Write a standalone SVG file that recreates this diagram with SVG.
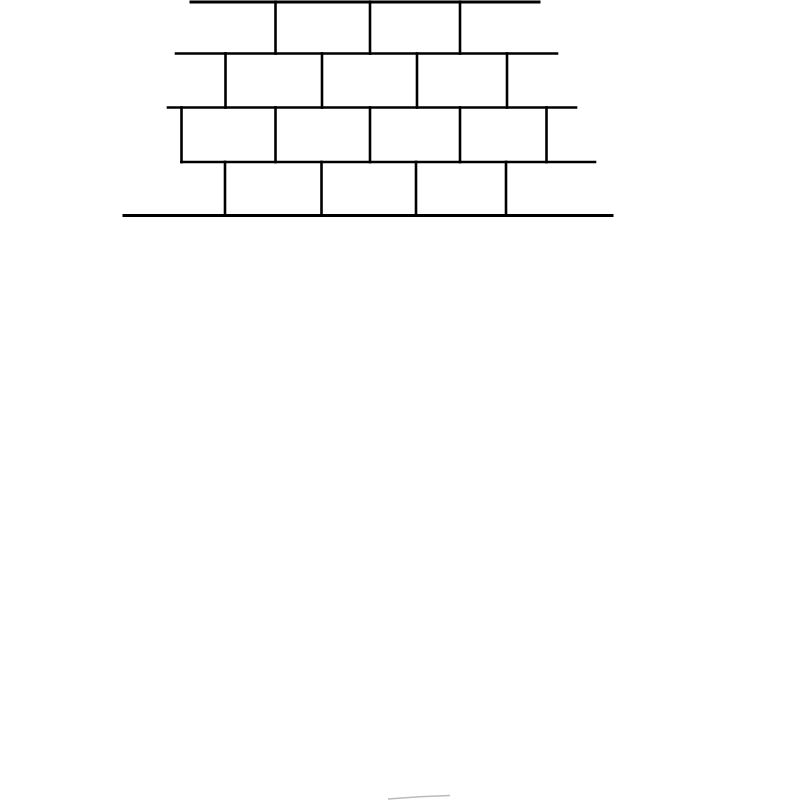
<svg xmlns="http://www.w3.org/2000/svg" width="800" height="800" viewBox="0 0 800 800">
<style>
.l{stroke:#000;stroke-width:2.6;fill:none;stroke-linecap:square}
.h{stroke-width:3}
</style>
<rect width="800" height="800" fill="#fff"/>
<g id="wall">
<line class="l h" x1="191" y1="2" x2="539" y2="2"/>
<line class="l" x1="275.5" y1="2" x2="275.5" y2="53.5"/>
<line class="l" x1="370" y1="2" x2="370" y2="53.5"/>
<line class="l" x1="460" y1="2" x2="460" y2="53.5"/>
<line class="l" x1="176" y1="53.5" x2="557" y2="53.5"/>
<line class="l" x1="225.5" y1="53.5" x2="225.5" y2="107.5"/>
<line class="l" x1="322" y1="53.5" x2="322" y2="107.5"/>
<line class="l" x1="417" y1="53.5" x2="417" y2="107.5"/>
<line class="l" x1="507" y1="53.5" x2="507" y2="107.5"/>
<line class="l" x1="168" y1="107.5" x2="576" y2="107.5"/>
<line class="l" x1="181.5" y1="107.5" x2="181.5" y2="162"/>
<line class="l" x1="275.5" y1="107.5" x2="275.5" y2="162"/>
<line class="l" x1="370" y1="107.5" x2="370" y2="162"/>
<line class="l" x1="460" y1="107.5" x2="460" y2="162"/>
<line class="l" x1="546.5" y1="107.5" x2="546.5" y2="162"/>
<line class="l" x1="181.5" y1="162" x2="595" y2="162"/>
<line class="l" x1="225" y1="162" x2="225" y2="215.5"/>
<line class="l" x1="321.5" y1="162" x2="321.5" y2="215.5"/>
<line class="l" x1="416" y1="162" x2="416" y2="215.5"/>
<line class="l" x1="506" y1="162" x2="506" y2="215.5"/>
<line class="l h" x1="124" y1="215.5" x2="612" y2="215.5"/>
</g>
<path d="M388 799 Q420 796 450 795.5" stroke="#bbb" stroke-width="1.5" fill="none"/>
</svg>
